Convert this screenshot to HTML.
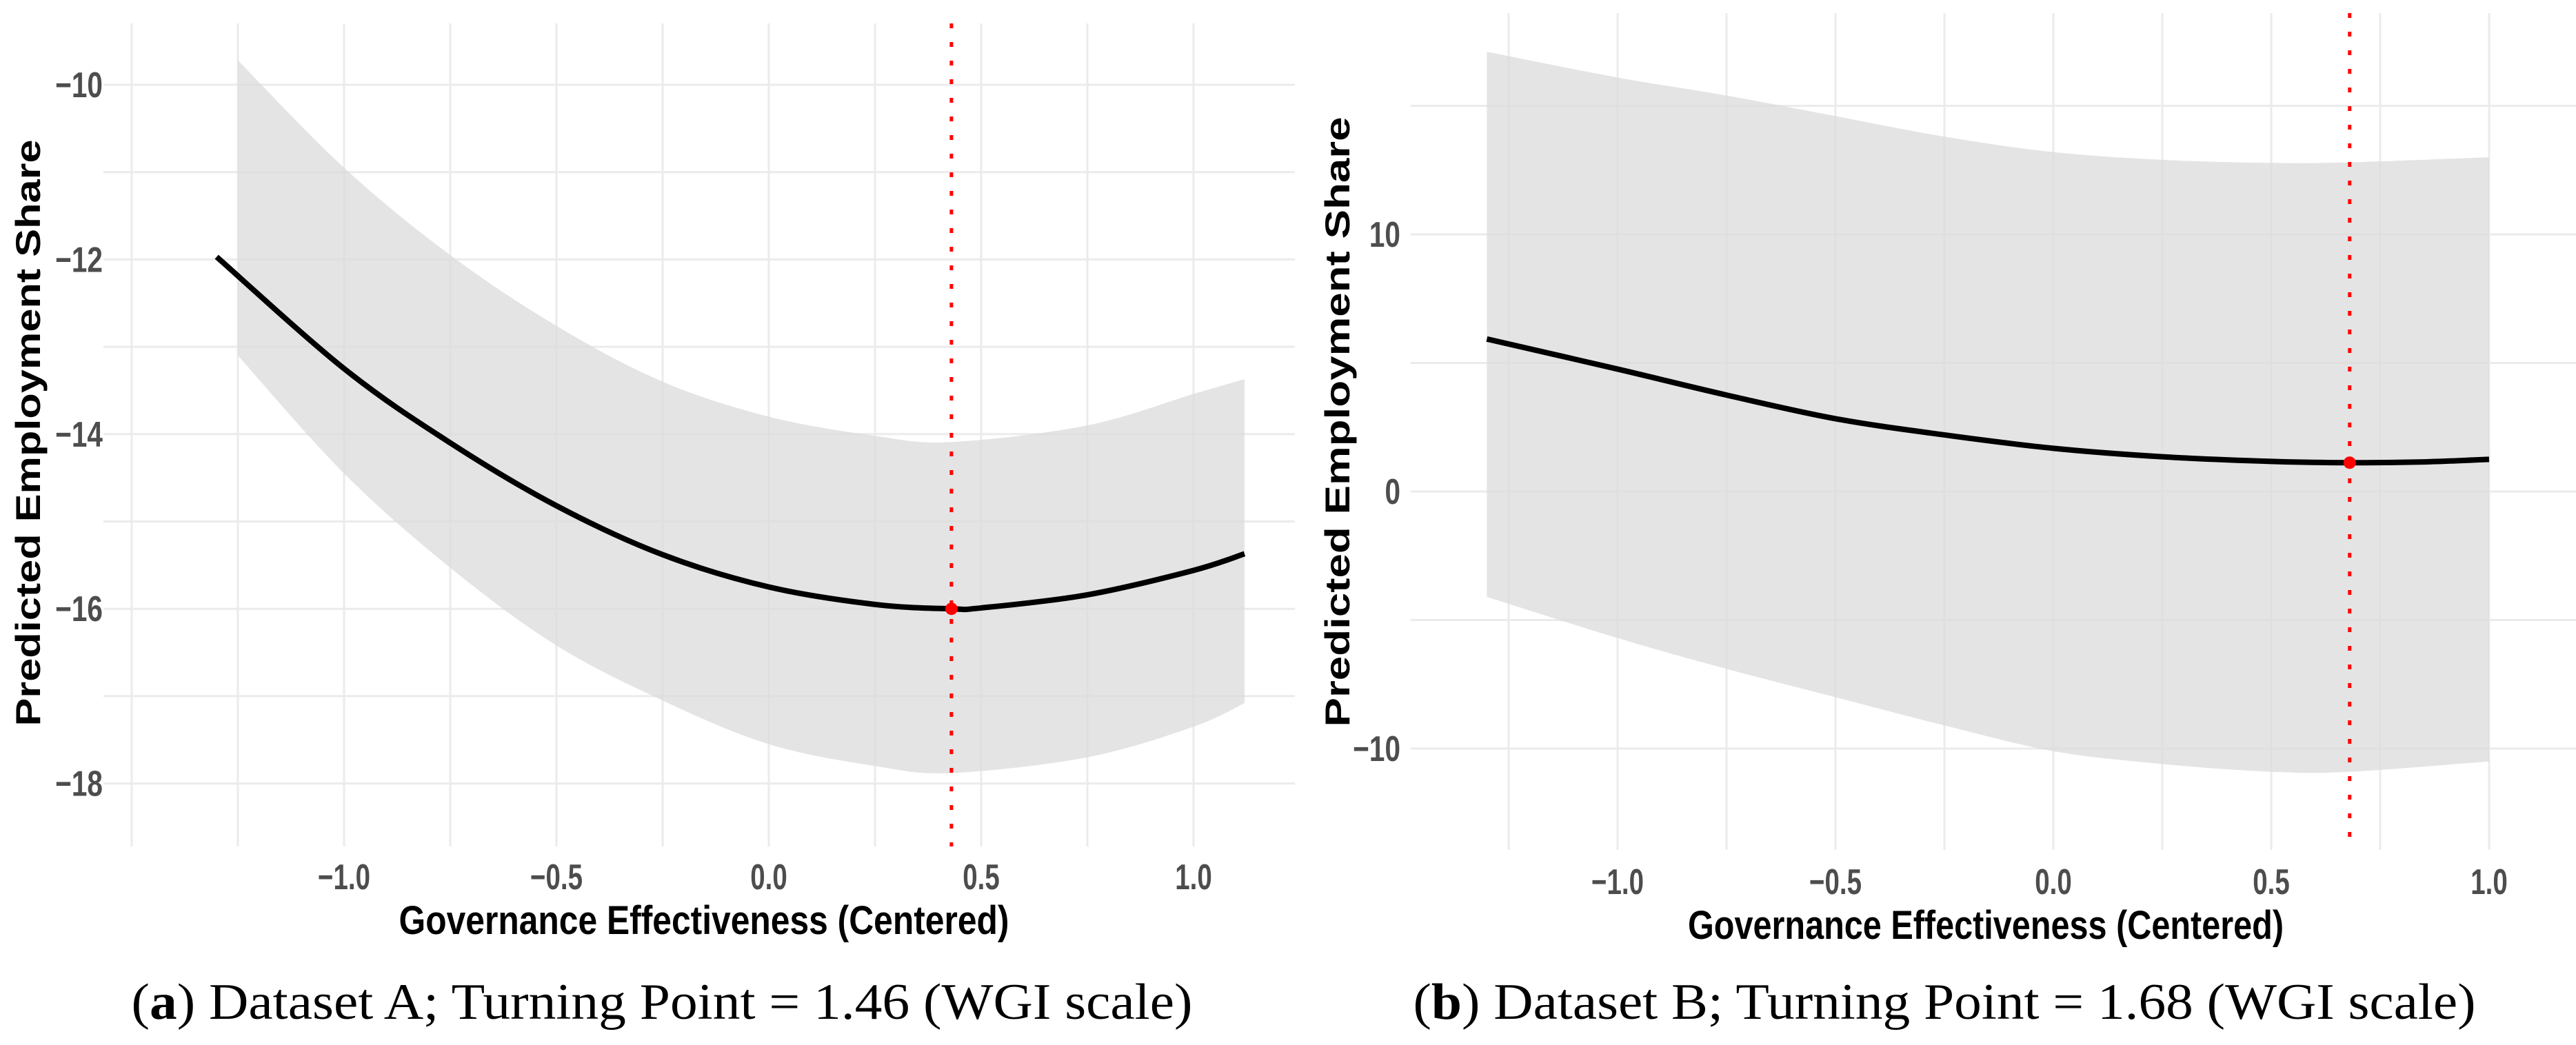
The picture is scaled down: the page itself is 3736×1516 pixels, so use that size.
<!DOCTYPE html>
<html><head><meta charset="utf-8"><style>
html,body{margin:0;padding:0;background:#fff;}
svg{display:block;}
</style></head><body>
<svg id="fig" xmlns="http://www.w3.org/2000/svg" width="3736" height="1516" viewBox="0 0 3736 1516">
<rect width="3736" height="1516" fill="#fff"/>
</svg>
<script>
// ---------- Panel A data ----------
const aLineX = [-1.3, -1.0, -0.75, -0.5, -0.25, 0.0, 0.25, 0.43, 0.5, 0.75, 1.0, 1.12];
const aLineY = [-11.97, -13.25, -14.1, -14.82, -15.38, -15.75, -15.95, -16.0, -15.99, -15.84, -15.56, -15.37];
const aBandX = [-1.25, -1.0, -0.75, -0.5, -0.25, 0.0, 0.25, 0.43, 0.75, 1.0, 1.12];
const aUpper = [-9.72, -10.95, -11.95, -12.76, -13.4, -13.8, -14.02, -14.09, -13.9, -13.54, -13.37];
const aLower = [-13.1, -14.45, -15.53, -16.42, -17.05, -17.55, -17.8, -17.88, -17.7, -17.35, -17.08];
const aTurnX = 0.43, aTurnY = -16.0;
const aXTicks = [-1.0, -0.5, 0.0, 0.5, 1.0];
const aXTickLabels = ["\u22121.0", "\u22120.5", "0.0", "0.5", "1.0"];
const aYTicks = [-10, -12, -14, -16, -18];
const aYTickLabels = ["\u221210", "\u221212", "\u221214", "\u221216", "\u221218"];
const aXGrid = [-1.5, -1.25, -1.0, -0.75, -0.5, -0.25, 0, 0.25, 0.5, 0.75, 1.0];
const aYGrid = [-10, -11, -12, -13, -14, -15, -16, -17, -18];

// ---------- Panel B data ----------
const bLineX = [-1.3, -1.0, -0.75, -0.5, -0.25, 0.0, 0.25, 0.5, 0.68, 0.85, 1.0];
const bLineY = [5.93, 4.76, 3.75, 2.83, 2.2, 1.68, 1.35, 1.17, 1.12, 1.15, 1.25];
const bBandX = [-1.3, -1.0, -0.75, -0.5, -0.25, 0.0, 0.25, 0.5, 0.68, 1.0];
const bUpper = [17.1, 16.1, 15.4, 14.6, 13.8, 13.2, 12.9, 12.78, 12.8, 13.0];
const bLower = [-4.1, -5.7, -6.9, -8.0, -9.1, -10.1, -10.6, -10.9, -10.9, -10.5];
const bTurnX = 0.68, bTurnY = 1.12;
const bXTicks = [-1.0, -0.5, 0.0, 0.5, 1.0];
const bXTickLabels = ["\u22121.0", "\u22120.5", "0.0", "0.5", "1.0"];
const bYTicks = [10, 0, -10];
const bYTickLabels = ["10", "0", "\u221210"];
const bXGrid = [-1.25, -1.0, -0.75, -0.5, -0.25, 0, 0.25, 0.5, 0.75, 1.0];
const bYGrid = [15, 10, 5, 0, -5, -10];

const NS = "http://www.w3.org/2000/svg";
const svg = document.getElementById('fig');
function mk(tag, attrs, parent) {
  const e = document.createElementNS(NS, tag);
  for (const k in attrs) e.setAttribute(k, attrs[k]);
  (parent || svg).appendChild(e);
  return e;
}
function smoothPath(pts, moveFirst) {
  let d = moveFirst ? `M${pts[0][0]},${pts[0][1]}` : `L${pts[0][0]},${pts[0][1]}`;
  for (let i = 0; i < pts.length - 1; i++) {
    const p0 = pts[Math.max(0, i - 1)], p1 = pts[i], p2 = pts[i + 1], p3 = pts[Math.min(pts.length - 1, i + 2)];
    const c1 = [p1[0] + (p2[0] - p0[0]) / 6, p1[1] + (p2[1] - p0[1]) / 6];
    const c2 = [p2[0] - (p3[0] - p1[0]) / 6, p2[1] - (p3[1] - p1[1]) / 6];
    d += ` C${c1[0]},${c1[1]} ${c2[0]},${c2[1]} ${p2[0]},${p2[1]}`;
  }
  return d;
}

function panel(cfg) {
  const g = mk('g', {});
  
  
  const sx = v => cfg.x0 + v * cfg.xu;
  const sy = v => cfg.y0 - v * cfg.yu;
  const grid = mk('g', {stroke: '#ebebeb', 'stroke-width': 3}, g);
  
  
  cfg.yGrid.forEach(v => {
    const l = mk('line', {x1: cfg.gl, x2: cfg.gr, y1: sy(v), y2: sy(v)}, grid);
    
    
  });
  cfg.xGrid.forEach(v => {
    const l = mk('line', {x1: sx(v), x2: sx(v), y1: cfg.gt, y2: cfg.gb}, grid);
    
    
  });
  const up = cfg.bandX.map((x, i) => [sx(x), sy(cfg.upper[i])]);
  const lo = cfg.bandX.map((x, i) => [sx(x), sy(cfg.lower[i])]).reverse();
  const band = mk('path', {d: smoothPath(up, true) + ' ' + smoothPath(lo, false) + ' Z', fill: '#d9d9d9', 'fill-opacity': 0.72}, g);
  
  
  const lp = cfg.lineX.map((x, i) => [sx(x), sy(cfg.lineY[i])]);
  const line = mk('path', {d: smoothPath(lp, true), fill: 'none', stroke: '#000', 'stroke-width': 8, 'stroke-linecap': 'butt'}, g);
  
  
  const vl = mk('line', {x1: sx(cfg.turnX), x2: sx(cfg.turnX), y1: cfg.gt, y2: cfg.gb, stroke: '#ff0000', 'stroke-width': 5, 'stroke-dasharray': '7 20'}, g);
  
  
  const pt = mk('circle', {cx: sx(cfg.turnX), cy: sy(cfg.turnY), r: 9, fill: '#ff0000'}, g);
  
  
  cfg.yTicks.forEach((v, i) => {
    const t = mk('text', {x: cfg.yLabX, y: sy(v) + 18, 'text-anchor': 'end', 'font-family': '"Liberation Sans", sans-serif', 'font-weight': 'bold', 'font-size': 52, fill: '#4d4d4d', transform: `translate(${cfg.yLabX},0) scale(0.78,1) translate(${-cfg.yLabX},0)`}, g);
    t.textContent = cfg.yLabels[i];
    
    
  });
  cfg.xTicks.forEach((v, i) => {
    const x = sx(v);
    const t = mk('text', {x: x, y: cfg.xLabY, 'text-anchor': 'middle', 'font-family': '"Liberation Sans", sans-serif', 'font-weight': 'bold', 'font-size': 52, fill: '#4d4d4d', transform: `translate(${x},0) scale(0.74,1) translate(${-x},0)`}, g);
    t.textContent = cfg.xLabels[i];
    
    
  });
  const xt = mk('text', {x: cfg.xtX, y: cfg.xtY, 'text-anchor': 'middle', 'font-family': '"Liberation Sans", sans-serif', 'font-weight': 'bold', 'font-size': 58, fill: '#000', textLength: cfg.xtW, lengthAdjust: 'spacingAndGlyphs'}, g);
  xt.textContent = 'Governance Effectiveness (Centered)';
  
  
  const yt = mk('text', {x: 0, y: 0, 'text-anchor': 'middle', 'font-family': '"Liberation Sans", sans-serif', 'font-weight': 'bold', 'font-size': 50, fill: '#000', textLength: cfg.ytW, lengthAdjust: 'spacingAndGlyphs', transform: `translate(${cfg.ytX},${cfg.ytY}) rotate(-90)`}, g);
  yt.textContent = 'Predicted Employment Share';
  
  
  const cap = mk('text', {x: cfg.capX, y: 1478, 'text-anchor': 'middle', 'font-family': '"Liberation Serif", serif', 'font-size': 74, fill: '#000', textLength: cfg.capW, lengthAdjust: 'spacingAndGlyphs'}, g);
  cap.innerHTML = `(<tspan font-weight="bold">${cfg.letter}</tspan>) ${cfg.caption}`;
  
  
}

panel({name: 'panel-a', x0: 1115, xu: 616, y0: 123 - 10 * 126.7, yu: 126.7,
  gl: 150, gr: 1878, gt: 34, gb: 1228,
  xGrid: aXGrid, yGrid: aYGrid, bandX: aBandX, upper: aUpper, lower: aLower,
  lineX: aLineX, lineY: aLineY, turnX: aTurnX, turnY: aTurnY,
  yTicks: aYTicks, yLabels: aYTickLabels, xTicks: aXTicks, xLabels: aXTickLabels,
  yLabX: 149, xLabY: 1290, xtX: 1021, xtY: 1355, xtW: 885, ytX: 58, ytY: 628, ytW: 851,
  capX: 960, capW: 1539, letter: 'a', caption: 'Dataset A; Turning Point = 1.46 (WGI scale)'});

panel({name: 'panel-b', x0: 2978, xu: 632, y0: 713, yu: 37.3,
  gl: 2046, gr: 3736, gt: 19, gb: 1233,
  xGrid: bXGrid, yGrid: bYGrid, bandX: bBandX, upper: bUpper, lower: bLower,
  lineX: bLineX, lineY: bLineY, turnX: bTurnX, turnY: bTurnY,
  yTicks: bYTicks, yLabels: bYTickLabels, xTicks: bXTicks, xLabels: bXTickLabels,
  yLabX: 2031, xLabY: 1297, xtX: 2880, xtY: 1362, xtW: 864, ytX: 1957, ytY: 612, ytW: 885,
  capX: 2820, capW: 1541, letter: 'b', caption: 'Dataset B; Turning Point = 1.68 (WGI scale)'});
</script>
</body></html>
